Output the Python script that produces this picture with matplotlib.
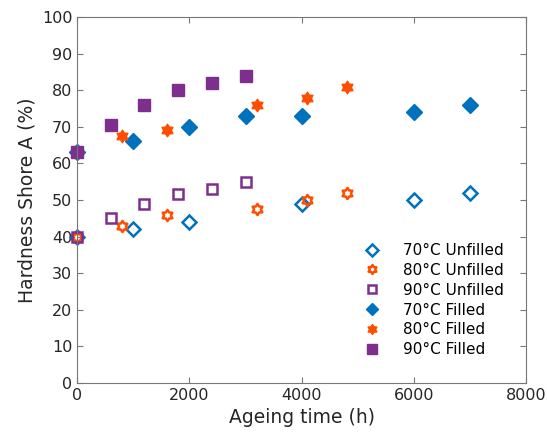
import matplotlib
matplotlib.use('Agg')
import matplotlib.pyplot as plt
from matplotlib.path import Path

# ageing time (h) and hardness (%) for each series
t70u = [0, 1000, 2000, 4000, 6000, 7000]
h70u = [40, 42, 44, 49, 50, 52]
t80u = [0, 800, 1600, 3200, 4100, 4800]
h80u = [40, 43, 46, 47.5, 50, 52]
t90u = [0, 600, 1200, 1800, 2400, 3000]
h90u = [40, 45, 49, 51.5, 53, 55]

t70f = [0, 1000, 2000, 3000, 4000, 6000, 7000]
h70f = [63, 66, 70, 73, 73, 74, 76]
t80f = [0, 800, 1600, 3200, 4100, 4800]
h80f = [63, 67.5, 69, 76, 78, 81]
t90f = [0, 600, 1200, 1800, 2400, 3000]
h90f = [63, 70.5, 76, 80, 82, 84]

blue = '#0072BD'
orange = '#FF4D00'
purple = '#7E2F8E'
hexagram = Path.unit_regular_star(6, 0.62)

fig, ax = plt.subplots(figsize=(5.47, 4.37), dpi=100)

ms = 8.5
kw = dict(ls='none', clip_on=False)
ax.plot(t70u, h70u, 'D', mfc='none', mec=blue, mew=1.8, ms=ms - 1, label='70°C Unfilled', **kw)
ax.plot(t80u, h80u, marker=hexagram, mfc='none', mec=orange, mew=1.8, ms=ms - 0.5, label='80°C Unfilled', **kw)
ax.plot(t90u, h90u, 's', mfc='none', mec=purple, mew=1.8, ms=ms - 1, label='90°C Unfilled', **kw)
ax.plot(t70f, h70f, 'D', color=blue, ms=ms - 0.5, label='70°C Filled', **kw)
ax.plot(t80f, h80f, marker=hexagram, color=orange, ms=ms + 0.5, label='80°C Filled', **kw)
ax.plot(t90f, h90f, 's', color=purple, ms=ms, label='90°C Filled', **kw)

ax.set_xlim(0, 8000)
ax.set_ylim(0, 100)
ax.set_xticks(range(0, 8001, 2000))
ax.set_yticks(range(0, 101, 10))
ax.tick_params(direction='in', top=True, right=True, labelsize=11.5,
               color='#777777', length=4, labelcolor='#262626')
for s in ax.spines.values():
    s.set_color('#777777')
    s.set_linewidth(0.8)

ax.set_xlabel('Ageing time (h)', fontsize=13.5, color='#262626')
ax.set_ylabel('Hardness Shore A (%)', fontsize=13.5, color='#262626')

ax.legend(loc='lower right', frameon=False, fontsize=11, handletextpad=1.0,
          markerscale=0.8, bbox_to_anchor=(0.98, 0.032), labelspacing=0.32)

fig.subplots_adjust(left=0.141, right=0.962, top=0.961, bottom=0.124)
fig.savefig('out.png', dpi=100)
